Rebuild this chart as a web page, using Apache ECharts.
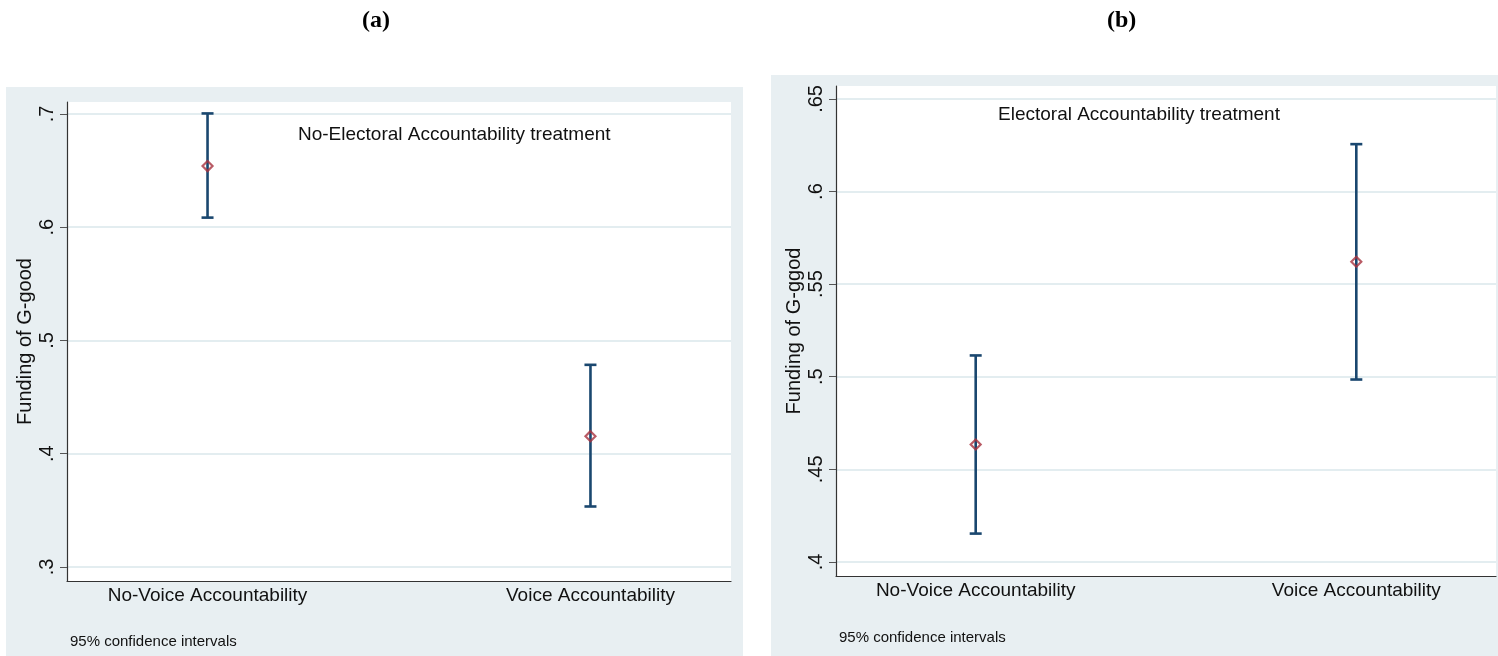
<!DOCTYPE html>
<html>
<head>
<meta charset="utf-8">
<script src="https://cdn.jsdelivr.net/npm/echarts@6/dist/echarts.min.js"></script>
<style>
html,body{margin:0;padding:0;background:#fff;}
#chart{width:1498px;height:656px;}
</style>
</head>
<body>
<div id="chart"></div>
<script>
// ---------- data ----------
const categories = ['No-Voice Accountability', 'Voice Accountability'];
const catPos = [1, 2];
// Panel (a): No-Electoral Accountability treatment
const meanA = [0.654, 0.4155];
const lowA  = [0.6085, 0.3534];
const highA = [0.7005, 0.4785];
// Panel (b): Electoral Accountability treatment
const meanB = [0.4634, 0.5621];
const lowB  = [0.4153, 0.4985];
const highB = [0.5115, 0.6256];
const yTicksA = [0.3, 0.4, 0.5, 0.6, 0.7];
const yTicksB = [0.4, 0.45, 0.5, 0.55, 0.6, 0.65];
const panelLabels = ['(a)', '(b)'];
const panelTitles = ['No-Electoral Accountability treatment', 'Electoral Accountability treatment'];
const yNames = ['Funding of G-good', 'Funding of G-ggod'];
const noteText = '95% confidence intervals';

// ---------- styles ----------
const BAR = '#1a476f';
const MK = '#a8323f';
const BG = '#e8eff2';
const GRIDC = '#e3edf0';
const TXT = '#111';
const FONT = '"Liberation Sans", Arial, sans-serif';

const chart = echarts.init(document.getElementById('chart'), null, {renderer: 'canvas'});

function errData(low, high) { return catPos.map((x, i) => [x, low[i], high[i]]); }
function meanData(mean) { return catPos.map((x, i) => [x, mean[i]]); }

function renderErr(params, api) {
  const x = api.value(0);
  const lo = api.coord([x, api.value(1)]);
  const hi = api.coord([x, api.value(2)]);
  const hw = 6;
  const style = {stroke: BAR, lineWidth: 2.6, fill: null};
  return {
    type: 'group',
    children: [
      {type: 'line', shape: {x1: lo[0], y1: lo[1], x2: hi[0], y2: hi[1]}, style},
      {type: 'line', shape: {x1: lo[0] - hw, y1: lo[1], x2: lo[0] + hw, y2: lo[1]}, style},
      {type: 'line', shape: {x1: hi[0] - hw, y1: hi[1], x2: hi[0] + hw, y2: hi[1]}, style}
    ]
  };
}

function xAxisCfg(gi) {
  return {
    gridIndex: gi, type: 'value', min: 0.633, max: 2.367,
    axisLine: {show: true, lineStyle: {color: '#333', width: 1.2}},
    axisTick: {show: false},
    splitLine: {show: false},
    axisLabel: {
      customValues: catPos,
      formatter: v => categories[Math.round(v) - 1] || '',
      color: TXT, fontSize: 19, fontFamily: FONT, margin: 5
    }
  };
}
function yAxisCfg(gi, min, max, ticks, name) {
  return {
    gridIndex: gi, type: 'value', min: min, max: max,
    name: name, nameLocation: 'middle', nameRotate: 90, nameGap: 32,
    nameTextStyle: {color: TXT, fontSize: 20, fontFamily: FONT},
    axisLine: {show: true, lineStyle: {color: '#333', width: 1.2}},
    axisTick: {show: true, customValues: ticks, length: 7, lineStyle: {color: '#555'}},
    splitLine: {show: true, lineStyle: {color: GRIDC, width: 2}},
    axisLabel: {
      customValues: ticks,
      rotate: 90, margin: 10,
      formatter: v => String(v).replace(/^0/, ''),
      color: TXT, fontSize: 20, fontFamily: FONT
    }
  };
}

const option = {
  animation: false,
  backgroundColor: '#fff',
  graphic: [
    {type: 'rect', z: -10, shape: {x: 6, y: 87, width: 737, height: 569}, style: {fill: BG}},
    {type: 'rect', z: -10, shape: {x: 771, y: 75, width: 727, height: 581}, style: {fill: BG}},
    {type: 'text', left: 362, top: 9, style: {text: panelLabels[0], font: 'bold 24px "Liberation Serif", "Times New Roman", serif', fill: '#000'}},
    {type: 'text', left: 1107, top: 9, style: {text: panelLabels[1], font: 'bold 24px "Liberation Serif", "Times New Roman", serif', fill: '#000'}},
    {type: 'text', left: 298, top: 125, style: {text: panelTitles[0], font: '19px ' + FONT, fill: TXT}},
    {type: 'text', left: 998, top: 105, style: {text: panelTitles[1], font: '19px ' + FONT, fill: TXT}},
    {type: 'text', left: 70, top: 634, style: {text: noteText, font: '15px ' + FONT, fill: TXT}},
    {type: 'text', left: 839, top: 630, style: {text: noteText, font: '15px ' + FONT, fill: TXT}}
  ],
  grid: [
    {left: 67, top: 102, width: 664, height: 479, show: true, backgroundColor: '#fff', borderWidth: 0, containLabel: false},
    {left: 836, top: 86, width: 660, height: 490, show: true, backgroundColor: '#fff', borderWidth: 0, containLabel: false}
  ],
  xAxis: [xAxisCfg(0), xAxisCfg(1)],
  yAxis: [
    yAxisCfg(0, 0.2876, 0.7106, yTicksA, yNames[0]),
    yAxisCfg(1, 0.3924, 0.657, yTicksB, yNames[1])
  ],
  series: [
    {type: 'custom', xAxisIndex: 0, yAxisIndex: 0, renderItem: renderErr, data: errData(lowA, highA), z: 2, encode: {x: 0, y: [1, 2]}},
    {type: 'custom', xAxisIndex: 1, yAxisIndex: 1, renderItem: renderErr, data: errData(lowB, highB), z: 2, encode: {x: 0, y: [1, 2]}},
    {type: 'scatter', xAxisIndex: 0, yAxisIndex: 0, data: meanData(meanA), symbol: 'diamond', symbolSize: 10, z: 5,
     itemStyle: {color: 'rgba(255,255,255,0)', borderColor: MK, borderWidth: 2.2}},
    {type: 'scatter', xAxisIndex: 1, yAxisIndex: 1, data: meanData(meanB), symbol: 'diamond', symbolSize: 10, z: 5,
     itemStyle: {color: 'rgba(255,255,255,0)', borderColor: MK, borderWidth: 2.2}}
  ]
};
chart.setOption(option);
</script>
</body>
</html>
